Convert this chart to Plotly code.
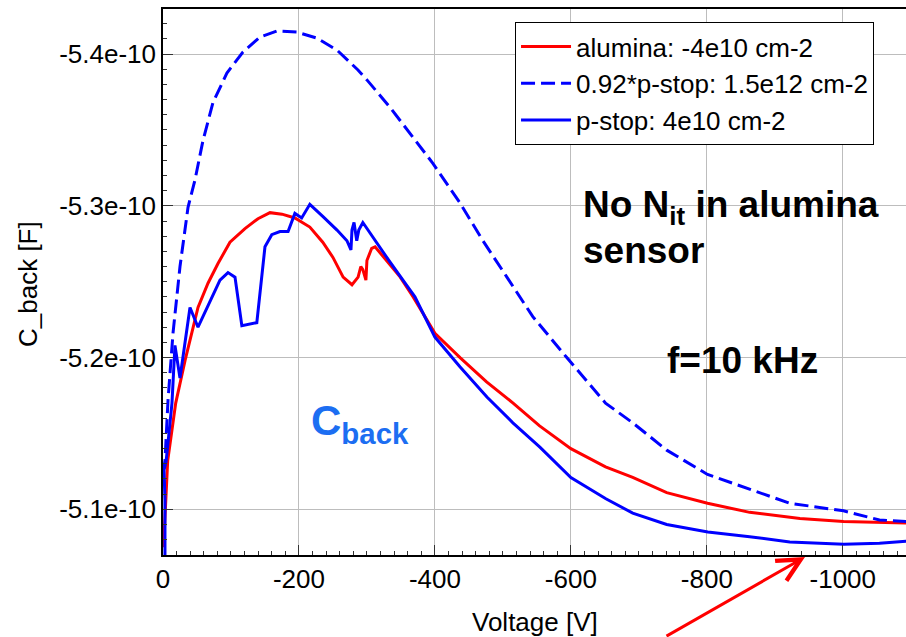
import plotly.graph_objects as go

# ---- data (capacitance in units of 1e-10 F, voltage in V) ----
alumina_v = [-0.8, -1.5, -6.9, -18.7, -32.4, -51.5, -66.2, -80.9, -98.5, -120.6, -139.7, -157.4, -175, -194,
             -216, -235, -250, -265, -278, -287, -291, -294, -298.5, -300, -307, -312, -329, -349, -368, -400,
             -437, -476, -515, -554, -600, -651, -691, -741, -801, -863, -937, -1001, -1093, -1100]
alumina_c = [-5.075, -5.083, -5.132, -5.170, -5.198, -5.233, -5.249, -5.262, -5.276, -5.285, -5.2915, -5.2955,
             -5.2945, -5.292, -5.286, -5.276, -5.266, -5.253, -5.248, -5.253, -5.260, -5.258, -5.251, -5.264,
             -5.272, -5.273, -5.264, -5.253, -5.240, -5.216, -5.200, -5.184, -5.170, -5.155, -5.140, -5.128,
             -5.121, -5.111, -5.104, -5.098, -5.094, -5.092, -5.091, -5.091]

pstop092_v = [0, -2.9, -7.4, -14.7, -25, -36.8, -47, -58.8, -73.5, -94, -117.6, -142.6, -167.6, -197, -226.5,
              -256, -286.8, -300, -333.8, -367.6, -397, -436.8, -470.6, -505.9, -544, -594, -651, -691, -741,
              -801, -863, -922, -1001, -1054, -1093, -1100]
pstop092_c = [-5.124, -5.132, -5.172, -5.216, -5.260, -5.299, -5.317, -5.343, -5.368, -5.3875, -5.4013,
              -5.4112, -5.4152, -5.4145, -5.4105, -5.4026, -5.3895, -5.383, -5.365, -5.345, -5.328, -5.302,
              -5.277, -5.253, -5.227, -5.200, -5.170, -5.157, -5.139, -5.123, -5.113, -5.104, -5.099, -5.093,
              -5.092, -5.092]

pstop_v = [-2.9, -2.9, -1.5, -4.4, -7.4, -13.2, -17.6, -25, -39.7, -51.5, -83.8, -95.6, -105.9, -116, -138,
           -150, -160, -172, -184, -194, -204, -216, -235, -256, -270.6, -276.5, -278, -281, -285, -288, -294,
           -301.5, -314.7, -333.8, -353, -370.6, -400, -436.8, -476.5, -514.7, -554.4, -600, -651.5, -691, -741,
           -801.5, -863, -922, -1001.5, -1054, -1093, -1100]
pstop_c = [-5.065, -5.106, -5.126, -5.131, -5.144, -5.170, -5.208, -5.1865, -5.233, -5.220, -5.251, -5.256,
           -5.253, -5.221, -5.223, -5.273, -5.281, -5.283, -5.283, -5.295, -5.292, -5.301, -5.293, -5.284,
           -5.277, -5.271, -5.284, -5.289, -5.277, -5.284, -5.289, -5.284, -5.276, -5.263, -5.251, -5.240,
           -5.2135, -5.194, -5.174, -5.157, -5.141, -5.121, -5.107, -5.0975, -5.090, -5.085, -5.082, -5.0784,
           -5.077, -5.0777, -5.079, -5.079]

x_tickvals = [0, -200, -400, -600, -800, -1000]
x_ticktext = ["0", "-200", "-400", "-600", "-800", "-1000"]
y_tickvals = [-5.4e-10, -5.3e-10, -5.2e-10, -5.1e-10]
y_ticktext = ["-5.4e-10", "-5.3e-10", "-5.2e-10", "-5.1e-10"]

names = ["alumina: -4e10 cm-2", "0.92*p-stop: 1.5e12 cm-2", "p-stop: 4e10 cm-2"]

SCALE = 1e-10
FONT = "Liberation Sans, Arial, sans-serif"

fig = go.Figure()
fig.add_trace(go.Scatter(x=alumina_v, y=[c * SCALE for c in alumina_c], mode="lines", name=names[0],
                         line=dict(color="#ff0000", width=3)))
fig.add_trace(go.Scatter(x=pstop092_v, y=[c * SCALE for c in pstop092_c], mode="lines", name=names[1],
                         line=dict(color="#0000ff", width=3, dash="14px,6px")))
fig.add_trace(go.Scatter(x=pstop_v, y=[c * SCALE for c in pstop_c], mode="lines", name=names[2],
                         line=dict(color="#0000ff", width=3)))

fig.update_layout(
    width=906, height=637,
    margin=dict(l=163, r=0, t=9, b=82),
    paper_bgcolor="white", plot_bgcolor="white",
    font=dict(family=FONT, size=26, color="black"),
    showlegend=True,
    legend=dict(x=0.4738, y=0.976, xanchor="left", yanchor="top",
                bgcolor="white", bordercolor="black", borderwidth=1,
                font=dict(family=FONT, size=26, color="black"),
                itemwidth=50, tracegroupgap=0),
    xaxis=dict(range=[0, -1093], tickmode="array", tickvals=x_tickvals, ticktext=x_ticktext,
               ticks="inside", ticklen=10, tickwidth=1, tickcolor="#333333",
               showline=True, linecolor="black", linewidth=1.5, mirror=True,
               showgrid=True, gridcolor="#bdbdbd", gridwidth=1, zeroline=False,
               minor=dict(ticks="inside", ticklen=4, tickmode="linear", tick0=0, dtick=20,
                          tickcolor="#333333", showgrid=False),
               tickfont=dict(size=26)),
    yaxis=dict(range=[-5.0699e-10, -5.4297e-10], tickmode="array", tickvals=y_tickvals, ticktext=y_ticktext,
               ticks="inside", ticklen=10, tickwidth=1, tickcolor="#333333",
               showline=True, linecolor="black", linewidth=1.5, mirror=False,
               showgrid=True, gridcolor="#bdbdbd", gridwidth=1, zeroline=False,
               minor=dict(ticks="inside", ticklen=4, tickmode="linear", tick0=-5.4e-10, dtick=1e-12,
                          tickcolor="#333333", showgrid=False),
               tickfont=dict(size=26)),
)

# axis titles placed as annotations for exact positioning
fig.add_annotation(xref="paper", yref="paper", x=0.5, y=(555 - 622) / 546, xanchor="center", yanchor="middle",
                   text="Voltage [V]", showarrow=False, font=dict(family=FONT, size=26, color="black"))
fig.add_annotation(xref="paper", yref="paper", x=(28 - 163) / 743, y=(555 - 284) / 546, xanchor="center",
                   yanchor="middle", textangle=-90, text="C_back [F]", showarrow=False,
                   font=dict(family=FONT, size=26, color="black"))

fig.add_annotation(xref="paper", yref="paper", x=(581 - 163) / 743, y=(555 - 207) / 546, xanchor="left",
                   yanchor="middle", text="<b>No N<sub>it</sub> in alumina</b>", showarrow=False,
                   font=dict(family=FONT, size=37, color="black"))
fig.add_annotation(xref="paper", yref="paper", x=(581 - 163) / 743, y=(555 - 250) / 546, xanchor="left",
                   yanchor="middle", text="<b>sensor</b>", showarrow=False,
                   font=dict(family=FONT, size=37, color="black"))
fig.add_annotation(xref="paper", yref="paper", x=(665 - 163) / 743, y=(555 - 361) / 546, xanchor="left",
                   yanchor="middle", text="<b>f=10 kHz</b>", showarrow=False,
                   font=dict(family=FONT, size=37, color="black"))
fig.add_annotation(xref="paper", yref="paper", x=(309 - 163) / 743, y=(555 - 423) / 546, xanchor="left",
                   yanchor="middle", text="<b>C<sub>back</sub></b>", showarrow=False,
                   font=dict(family=FONT, size=42, color="#1c6ef2"))
fig.add_annotation(xref="paper", yref="paper", x=(805 - 163) / 743, y=(555 - 557) / 546,
                   ax=-140, ay=96, text="", showarrow=True, arrowhead=5, arrowsize=1.5,
                   arrowwidth=3, arrowcolor="#ff0000")

fig.write_html("out.html")
